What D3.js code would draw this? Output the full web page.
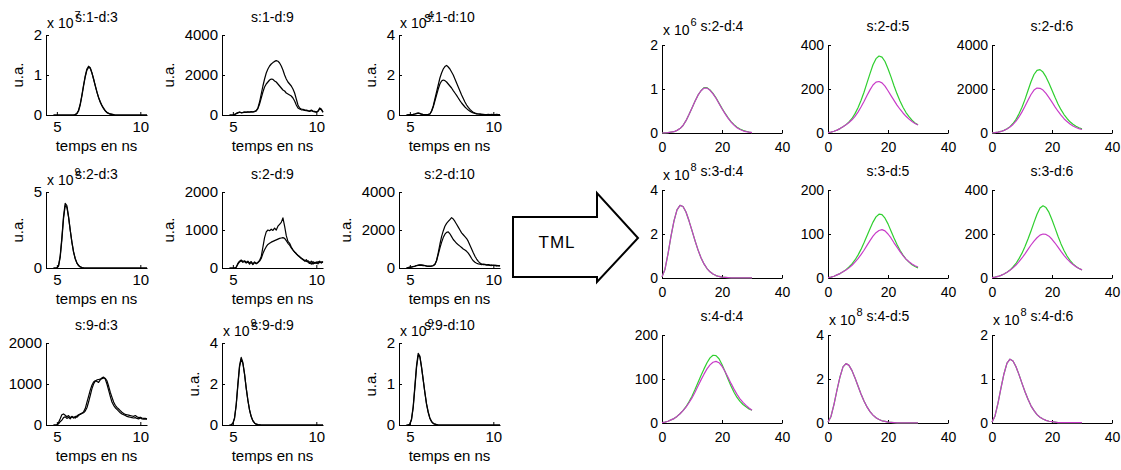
<!DOCTYPE html>
<html><head><meta charset="utf-8">
<script src="https://cdn.jsdelivr.net/npm/d3@7"></script>
<style>body{margin:0;background:#fff;overflow:hidden}</style>
</head><body><svg id="chart" width="1121" height="470"></svg>
<script>
// ---------------- DATA ----------------
// left panel: time axis (ns)
const tL = [4.8,4.9,5.0,5.1,5.2,5.3,5.4,5.5,5.6,5.7,
  5.8,5.9,6.0,6.1,6.2,6.3,6.4,6.5,6.6,6.7,
  6.8,6.9,7.0,7.1,7.2,7.3,7.4,7.5,7.6,7.7,
  7.8,7.9,8.0,8.1,8.2,8.3,8.4,8.5,8.6,8.7,
  8.8,8.9,9.0,9.1,9.2,9.3,9.4,9.5,9.6,9.7,
  9.8,9.9,10.0,10.1,10.2,10.3,10.4];
const leftXTicks = [5, 10];
const leftTitles = ["s:1-d:3","s:1-d:9","s:1-d:10","s:2-d:3","s:2-d:9","s:2-d:10","s:9-d:3","s:9-d:9","s:9-d:10"];
const leftExponents = [7, null, 4, 9, null, null, null, 9, 9];
const leftYMax = [2, 4000, 4, 5, 2000, 4000, 2000, 4, 2];
const leftYTicks = [[0,1,2],[0,2000,4000],[0,2,4],[0,5],[0,1000,2000],[0,2000,4000],[0,1000,2000],[0,2,4],[0,1,2]];
const leftHasYLabel = [true,true,true,true,true,true,false,true,true];
const leftXLabel = "temps en ns";
const leftYLabel = "u.a.";

const s1d3_a = [0,0,0,0,0,0,0,0,0,0, 0,0,0,0.01,0.04,0.12,0.28,0.5,0.75,0.98, 1.15,1.22,1.18,1.06,0.9,0.73,0.57,0.43,0.32,0.23, 0.16,0.1,0.06,0.04,0.02,0.01,0,0,0,0, 0,0,0,0,0,0,0,0,0,0, 0,0,0,0,0,0,0];
const s1d3_b = [0,0,0,0,0,0,0,0,0,0, 0,0,0,0.01,0.03,0.1,0.25,0.47,0.72,0.95, 1.12,1.19,1.17,1.05,0.9,0.74,0.58,0.44,0.33,0.24, 0.17,0.11,0.07,0.04,0.03,0.02,0.01,0,0,0, 0,0,0,0,0,0,0,0,0,0, 0,0,0,0,0,0,0];
const s1d9_a = [0,0,0,30,80,120,150,120,130,150, 140,160,150,170,160,180,220,350,650,1050, 1450,1800,2100,2300,2450,2550,2620,2680,2720,2690, 2600,2450,2250,2000,1800,1650,1550,1450,1300,1100, 800,500,350,300,280,260,250,220,200,250, 200,180,150,200,350,300,150];
const s1d9_b = [0,0,0,20,60,100,140,110,120,140, 130,150,140,160,150,170,200,320,550,850, 1150,1400,1550,1650,1750,1800,1780,1700,1650,1550, 1450,1350,1250,1200,1100,1050,1000,950,850,700, 500,350,300,260,250,230,220,200,180,220, 180,160,140,180,300,260,130];
const s1d10_a = [0,0.01,0.02,0.02,0.03,0.05,0.08,0.1,0.08,0.04, 0.02,0.02,0.02,0.03,0.05,0.2,0.45,0.8,1.15,1.5, 1.85,2.1,2.3,2.42,2.48,2.4,2.3,2.15,2.0,1.8, 1.6,1.4,1.2,1.0,0.82,0.65,0.5,0.38,0.28,0.2, 0.14,0.1,0.07,0.05,0.04,0.03,0.03,0.02,0.02,0.03, 0.02,0.03,0.02,0.02,0.03,0.02,0.02];
const s1d10_b = [0,0.01,0.02,0.02,0.03,0.05,0.07,0.09,0.07,0.04, 0.02,0.02,0.02,0.03,0.05,0.18,0.4,0.7,1.0,1.3, 1.55,1.7,1.75,1.72,1.65,1.55,1.45,1.35,1.22,1.1, 0.98,0.85,0.72,0.6,0.5,0.4,0.32,0.25,0.19,0.14, 0.1,0.08,0.06,0.05,0.04,0.03,0.02,0.02,0.02,0.02, 0.02,0.02,0.02,0.02,0.02,0.02,0.02];
const s2d3_a = [0,0,0,0.15,0.8,2.0,3.4,4.25,4.1,3.4, 2.5,1.7,1.05,0.6,0.32,0.16,0.07,0.03,0.01,0, 0,0,0,0,0,0,0,0,0,0, 0,0,0,0,0,0,0,0,0,0, 0,0,0,0,0,0,0,0,0,0, 0,0,0,0,0,0,0];
const s2d3_b = [0,0,0,0.12,0.7,1.85,3.25,4.1,4.0,3.35, 2.5,1.72,1.08,0.63,0.34,0.17,0.08,0.03,0.01,0, 0,0,0,0,0,0,0,0,0,0, 0,0,0,0,0,0,0,0,0,0, 0,0,0,0,0,0,0,0,0,0, 0,0,0,0,0,0,0];
const s2d9_a = [0,0,0,0,20,120,180,210,170,190, 150,180,130,170,110,160,120,150,200,300, 550,800,950,1000,980,1020,990,1050,1000,1100, 1150,1200,1320,1100,850,700,650,550,480,420, 380,330,300,260,230,180,220,150,120,180, 100,150,120,170,140,160,150];
const s2d9_b = [0,0,0,0,20,100,160,190,150,170, 130,160,100,150,90,140,110,140,180,250, 380,480,560,620,650,680,700,720,740,760, 780,790,800,780,720,650,600,530,470,420, 370,330,290,250,220,200,170,190,150,100, 170,120,160,110,180,130,170];
const s2d10_a = [0,20,50,60,80,100,130,150,170,160, 150,130,110,100,100,110,130,200,400,800, 1250,1650,1950,2200,2350,2450,2550,2650,2580,2450, 2300,2150,2000,1850,1750,1650,1550,1400,1200,1000, 800,620,470,350,260,210,180,170,150,160, 140,130,150,120,140,110,130];
const s2d10_b = [0,20,40,50,70,90,120,140,150,140, 130,120,100,90,90,100,120,180,380,700, 1050,1350,1600,1780,1880,1900,1800,1650,1500,1400, 1300,1220,1150,1080,1000,950,880,780,650,500, 380,300,250,220,200,180,200,190,170,180, 150,160,130,150,110,130,100];
const s9d3_a = [0,0,0,60,150,250,270,240,200,230, 180,200,170,210,190,230,260,280,300,340, 420,560,720,880,1000,1070,1100,1110,1120,1130, 1150,1140,1080,950,800,680,560,480,430,390, 350,310,280,260,250,240,230,220,210,230, 200,180,190,170,160,160,150];
const s9d3_b = [0,0,0,30,80,120,180,200,160,190, 150,210,190,170,220,250,270,290,320,400, 550,700,850,970,1050,1080,1060,1040,1100,1150, 1170,1120,1000,850,700,560,480,420,380,340, 300,270,250,230,210,200,190,180,170,180, 160,150,170,150,140,150,140];
const s9d9_a = [0,0.01,0.08,0.35,1.0,2.0,2.9,3.3,3.05,2.5, 1.8,1.2,0.72,0.4,0.2,0.09,0.04,0.02,0.01,0, 0,0,0,0,0,0,0,0,0,0, 0,0,0,0,0,0,0,0,0,0, 0,0,0,0,0,0,0,0,0,0, 0,0,0,0,0,0,0];
const s9d9_b = [0,0.01,0.07,0.32,0.95,1.92,2.82,3.22,3.0,2.48, 1.8,1.22,0.74,0.42,0.21,0.1,0.04,0.02,0.01,0, 0,0,0,0,0,0,0,0,0,0, 0,0,0,0,0,0,0,0,0,0, 0,0,0,0,0,0,0,0,0,0, 0,0,0,0,0,0,0];
const s9d10_a = [0,0,0.02,0.15,0.45,0.95,1.45,1.75,1.68,1.42, 1.1,0.78,0.5,0.3,0.16,0.08,0.04,0.02,0.01,0, 0,0,0,0,0,0,0,0,0,0, 0,0,0,0,0,0,0,0,0,0, 0,0,0,0,0,0,0,0,0,0, 0,0,0,0,0,0,0];
const s9d10_b = [0,0,0.02,0.13,0.42,0.9,1.4,1.7,1.66,1.4, 1.1,0.8,0.52,0.32,0.17,0.09,0.04,0.02,0.01,0, 0,0,0,0,0,0,0,0,0,0, 0,0,0,0,0,0,0,0,0,0, 0,0,0,0,0,0,0,0,0,0, 0,0,0,0,0,0,0];
const leftSeries = [[s1d3_a,s1d3_b],[s1d9_a,s1d9_b],[s1d10_a,s1d10_b],[s2d3_a,s2d3_b],[s2d9_a,s2d9_b],[s2d10_a,s2d10_b],[s9d3_a,s9d3_b],[s9d9_a,s9d9_b],[s9d10_a,s9d10_b]];

// right panel (after TML)
const tR = [0,1,2,3,4,5,6,7,8,9,10,11,12,13,14,15,16,17,18,19,20,21,22,23,24,25,26,27,28,29,30];
const rightXTicks = [0, 20, 40];
const rightTitles = ["s:2-d:4","s:2-d:5","s:2-d:6","s:3-d:4","s:3-d:5","s:3-d:6","s:4-d:4","s:4-d:5","s:4-d:6"];
const rightExponents = [6, null, null, 8, null, null, null, 8, 8];
const rightYMax = [2, 400, 4000, 4, 200, 400, 200, 4, 2];
const rightYTicks = [[0,1,2],[0,200,400],[0,2000,4000],[0,2,4],[0,100,200],[0,200,400],[0,100,200],[0,2,4],[0,1,2]];

const r2d4_g = [0,0.005,0.01,0.02,0.03,0.06,0.1,0.17,0.28,0.42,0.57,0.72,0.86,0.96,1.03,1.03,0.98,0.9,0.8,0.68,0.56,0.45,0.35,0.26,0.19,0.13,0.09,0.06,0.04,0.02,0.01];
const r2d4_m = [0,0.005,0.01,0.02,0.03,0.06,0.1,0.17,0.28,0.42,0.57,0.72,0.86,0.96,1.02,1.02,0.97,0.89,0.79,0.67,0.55,0.44,0.34,0.25,0.18,0.12,0.08,0.05,0.03,0.02,0.01];
const r2d5_g = [2,4,8,13,20,28,38,50,66,88,115,148,185,228,270,310,338,350,345,325,292,255,215,178,145,117,93,74,58,46,37];
const r2d5_m = [2,4,8,13,20,28,37,48,60,76,95,118,143,170,196,218,231,234,228,213,192,170,148,127,108,91,76,63,52,43,36];
const r2d6_g = [10,20,40,70,120,190,290,430,620,870,1170,1530,1930,2330,2660,2850,2880,2770,2550,2260,1940,1620,1320,1060,840,660,510,400,310,240,190];
const r2d6_m = [10,20,40,70,120,185,275,390,540,730,960,1220,1490,1750,1950,2040,2030,1950,1800,1610,1400,1190,990,810,650,520,410,320,250,200,160];
const r3d4_g = [0.05,0.4,1.1,1.9,2.6,3.1,3.3,3.25,3.0,2.6,2.15,1.7,1.28,0.92,0.64,0.43,0.28,0.18,0.11,0.07,0.04,0.03,0.02,0.01,0.01,0.01,0.01,0.01,0.01,0.01,0.01];
const r3d4_m = [0.05,0.4,1.1,1.9,2.6,3.1,3.3,3.25,3.0,2.6,2.15,1.7,1.28,0.92,0.64,0.43,0.28,0.18,0.11,0.07,0.04,0.03,0.02,0.01,0.01,0.01,0.01,0.01,0.01,0.01,0.01];
const r3d5_g = [1,2,4,7,10,14,19,25,32,41,52,65,80,96,112,127,139,145,144,136,123,107,91,76,63,52,43,36,30,26,23];
const r3d5_m = [1,2,4,7,10,14,18,23,29,36,44,53,63,74,85,95,103,108,110,107,100,91,80,70,60,51,43,37,32,28,25];
const r3d6_g = [2,4,7,12,18,26,36,50,66,88,113,143,177,214,253,290,318,328,320,298,265,228,190,155,125,100,80,64,52,43,37];
const r3d6_m = [2,4,7,12,18,26,35,46,59,74,91,110,130,150,168,183,195,200,198,190,176,159,140,121,103,87,73,61,51,43,37];
const r4d4_g = [1,2,4,7,10,15,21,28,37,48,61,76,92,108,123,137,148,154,153,146,133,117,100,84,70,58,49,42,37,32,29];
const r4d4_m = [1,2,4,7,10,15,21,28,36,46,57,70,84,98,111,123,132,138,140,137,129,117,104,90,77,65,55,47,40,34,29];
const r4d5_g = [0.03,0.3,0.85,1.5,2.1,2.55,2.7,2.62,2.38,2.05,1.68,1.32,1.0,0.73,0.52,0.36,0.24,0.16,0.1,0.07,0.04,0.03,0.02,0.01,0.01,0.01,0.01,0.01,0.01,0.01,0.01];
const r4d5_m = [0.03,0.3,0.85,1.5,2.1,2.55,2.7,2.62,2.38,2.05,1.68,1.32,1.0,0.73,0.52,0.36,0.24,0.16,0.1,0.07,0.04,0.03,0.02,0.01,0.01,0.01,0.01,0.01,0.01,0.01,0.01];
const r4d6_g = [0.02,0.16,0.45,0.8,1.12,1.36,1.45,1.41,1.28,1.1,0.9,0.71,0.54,0.39,0.28,0.19,0.13,0.09,0.06,0.04,0.03,0.02,0.01,0.01,0.01,0.01,0.01,0.01,0.01,0.01,0.01];
const r4d6_m = [0.02,0.16,0.45,0.8,1.12,1.36,1.45,1.41,1.28,1.1,0.9,0.71,0.54,0.39,0.28,0.19,0.13,0.09,0.06,0.04,0.03,0.02,0.01,0.01,0.01,0.01,0.01,0.01,0.01,0.01,0.01];
const rightSeries = [[r2d4_g,r2d4_m],[r2d5_g,r2d5_m],[r2d6_g,r2d6_m],[r3d4_g,r3d4_m],[r3d5_g,r3d5_m],[r3d6_g,r3d6_m],[r4d4_g,r4d4_m],[r4d5_g,r4d5_m],[r4d6_g,r4d6_m]];
const arrowLabel = "TML";

// ---------------- LAYOUT / STYLE ----------------
const FONT = '"Liberation Sans", Arial, Helvetica, sans-serif';
const svg = d3.select("#chart");
const leftCols = [46, 222, 399], leftW = 101;
const leftRows = [[35,115],[192,268],[343,425]];
const rightCols = [662, 828, 992], rightW = 120;
const rightRows = [[45,133],[190,278],[335,423]];
const GREEN = "#2fcf2f", MAGENTA = "#c83cc8";

function panel(o) {
  const x = d3.scaleLinear().domain(o.xDomain).range([o.left, o.left + o.width]);
  const y = d3.scaleLinear().domain([0, o.yMax]).range([o.bottom, o.top]);
  const g = svg.append("g");
  const ya = g.append("g").attr("transform", `translate(${o.left},0)`)
    .call(d3.axisLeft(y).tickValues(o.yTicks).tickSizeInner(-3).tickSizeOuter(0).tickPadding(4).tickFormat(d3.format("d")));
  const xa = g.append("g").attr("transform", `translate(0,${o.bottom})`)
    .call(d3.axisBottom(x).tickValues(o.xTicks).tickSizeInner(-3).tickSizeOuter(0).tickPadding(o.xPad).tickFormat(d3.format("d")));
  [ya, xa].forEach(a => {
    a.attr("font-family", FONT).attr("font-size", o.fs);
    a.selectAll("path,line").attr("stroke", "#000").attr("stroke-width", 1);
    a.selectAll("text").attr("fill", "#000");
  });
  const line = d3.line().x(d => x(d[0])).y(d => y(d[1]));
  o.series.forEach(s => {
    g.append("path").datum(o.t.map((t, i) => [t, s.v[i]]))
      .attr("fill", "none").attr("stroke", s.color).attr("stroke-width", s.w)
      .attr("stroke-linejoin", "round").attr("d", line);
  });
  const cx = o.left + o.width / 2;
  g.append("text").attr("x", cx).attr("y", o.top - o.titleOff).attr("text-anchor", "middle")
    .attr("font-family", FONT).attr("font-size", o.tfs).text(o.title);
  if (o.exp != null) {
    const base = g.append("text").attr("x", o.left + 1).attr("y", o.top - o.expOff)
      .attr("font-family", FONT).attr("font-size", o.tfs).text("x 10");
    const w = base.node().getComputedTextLength();
    g.append("text").attr("x", o.left + 2 + w).attr("y", o.top - o.expOff - 9)
      .attr("font-family", FONT).attr("font-size", o.tfs - 3).text(o.exp);
  }
  if (o.xLabel) {
    g.append("text").attr("x", cx).attr("y", o.bottom + o.xLabOff).attr("text-anchor", "middle")
      .attr("font-family", FONT).attr("font-size", o.fs).text(o.xLabel);
  }
  if (o.yLabel) {
    let mw = 0;
    ya.selectAll("text").each(function () { mw = Math.max(mw, this.getComputedTextLength()); });
    const lx = o.left - mw - 20, ly = (o.top + o.bottom) / 2;
    g.append("text").attr("transform", `translate(${lx},${ly}) rotate(-90)`)
      .attr("text-anchor", "middle").attr("dy", "0.35em")
      .attr("font-family", FONT).attr("font-size", o.fs).text(o.yLabel);
  }
}

leftTitles.forEach((title, i) => {
  const r = Math.floor(i / 3), c = i % 3;
  panel({
    left: leftCols[c], width: leftW, top: leftRows[r][0], bottom: leftRows[r][1],
    xDomain: [4.35, 10.4], xTicks: leftXTicks, yMax: leftYMax[i], yTicks: leftYTicks[i],
    t: tL, series: leftSeries[i].map(v => ({ v, color: "#000", w: 1.2 })),
    title, exp: leftExponents[i], fs: 15, tfs: 14, xPad: 6, titleOff: 13, expOff: 7,
    xLabel: leftXLabel, xLabOff: 36, yLabel: leftHasYLabel[i] ? leftYLabel : null
  });
});

rightTitles.forEach((title, i) => {
  const r = Math.floor(i / 3), c = i % 3;
  panel({
    left: rightCols[c], width: rightW, top: rightRows[r][0], bottom: rightRows[r][1],
    xDomain: [0, 40], xTicks: rightXTicks, yMax: rightYMax[i], yTicks: rightYTicks[i],
    t: tR, series: [{ v: rightSeries[i][0], color: GREEN, w: 1.2 }, { v: rightSeries[i][1], color: MAGENTA, w: 1.2 }],
    title, exp: rightExponents[i], fs: 14, tfs: 14, xPad: 9, titleOff: 14, expOff: 10,
    xLabel: null, yLabel: null
  });
});

// arrow with label
const ax0 = 513, ax1 = 597, atip = 638, bodyTop = 217, bodyBot = 277, headTop = 193, headBot = 282, tipY = 238;
svg.append("path")
  .attr("d", d3.line()([[ax0, bodyTop], [ax1, bodyTop], [ax1, headTop], [atip, tipY], [ax1, headBot], [ax1, bodyBot], [ax0, bodyBot]]) + "Z")
  .attr("fill", "#fff").attr("stroke", "#000").attr("stroke-width", 2).attr("stroke-linejoin", "miter");
svg.append("text").attr("x", 557).attr("y", 248).attr("text-anchor", "middle")
  .attr("font-family", FONT).attr("font-size", 17).attr("letter-spacing", 1).text(arrowLabel);
</script>
</body></html>
